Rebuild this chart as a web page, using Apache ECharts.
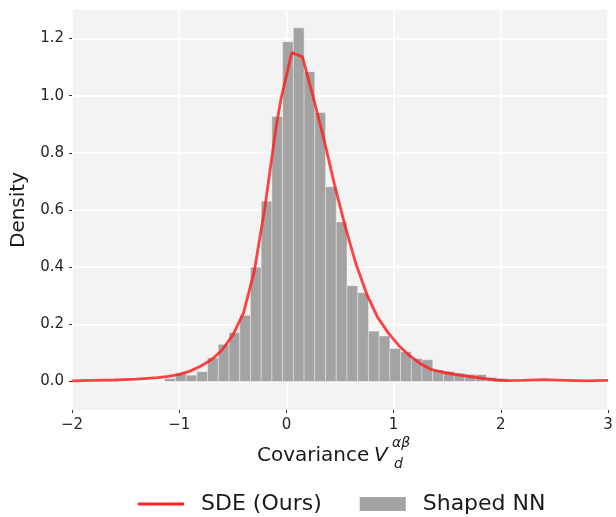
<!DOCTYPE html>
<html>
<head>
<meta charset="utf-8">
<title>Covariance density</title>
<script src="https://cdn.jsdelivr.net/npm/echarts@6/dist/echarts.min.js"></script>
<style>
  html, body { margin: 0; padding: 0; background: #fff; }
  #main { width: 616px; height: 517px; }
</style>
</head>
<body>
<div id="main"></div>
<script type="text/javascript">
// histogram of the shaped network (bin edges and densities)
var binEdges = [-1.135, -1.035, -0.935, -0.835, -0.735, -0.635, -0.535, -0.435, -0.335, -0.235,
    -0.135, -0.035, 0.065, 0.165, 0.265, 0.365, 0.465, 0.565, 0.665, 0.765,
    0.865, 0.965, 1.065, 1.165, 1.265, 1.365, 1.465, 1.565, 1.665, 1.765,
    1.865, 1.965, 2.065];
var nnDensity = [0.010, 0.029, 0.022, 0.034, 0.083, 0.130, 0.171, 0.231, 0.400, 0.631,
    0.927, 1.189, 1.238, 1.084, 0.941, 0.681, 0.558, 0.335, 0.310, 0.176,
    0.159, 0.115, 0.104, 0.080, 0.076, 0.040, 0.035, 0.029, 0.025, 0.024,
    0.014, 0.010];

// SDE density curve
var sdeX = [-2.0, -1.8, -1.6, -1.4, -1.2, -1.1, -1.0, -0.9, -0.8, -0.7,
    -0.6, -0.5, -0.4, -0.3, -0.2, -0.1, -0.05, 0.05, 0.15, 0.25,
    0.35, 0.45, 0.55, 0.65, 0.75, 0.85, 0.95, 1.05, 1.15, 1.25,
    1.35, 1.45, 1.55, 1.65, 1.75, 1.85, 1.95, 2.05, 2.2, 2.4,
    2.6, 2.8, 3.0];
var sdeY = [0.002, 0.004, 0.005, 0.008, 0.013, 0.018, 0.025, 0.036, 0.053, 0.076,
    0.110, 0.162, 0.240, 0.385, 0.610, 0.880, 0.990, 1.151, 1.136, 0.995,
    0.848, 0.687, 0.540, 0.410, 0.305, 0.225, 0.170, 0.125, 0.090, 0.062,
    0.042, 0.033, 0.026, 0.020, 0.015, 0.010, 0.005, 0.003, 0.004, 0.006,
    0.004, 0.002, 0.004];

var yTicks = [0, 0.2, 0.4, 0.6, 0.8, 1.0, 1.2];

var barData = [];
for (var i = 0; i < nnDensity.length; i++) {
    barData.push([binEdges[i], binEdges[i + 1], nnDensity[i]]);
}
var lineData = [];
for (var j = 0; j < sdeX.length; j++) {
    lineData.push([sdeX[j], sdeY[j]]);
}

var font = "DejaVu Sans";
var myChart = echarts.init(document.getElementById('main'));
myChart.setOption({
    animation: false,
    textStyle: { fontFamily: font },
    grid: {
        left: 72, right: 8, top: 10, bottom: 107,
        show: true, backgroundColor: '#f3f3f3', borderWidth: 0
    },
    legend: {
        left: 133, top: 488,
        itemWidth: 46, itemHeight: 14, itemGap: 38,
        textStyle: { fontSize: 22, color: '#1a1a1a', fontFamily: font, padding: [0, 0, 0, 12] },
        data: [
            { name: 'SDE (Ours)', icon: 'path://M0 0H46V3H0Z' },
            { name: 'Shaped NN', icon: 'rect' }
        ]
    },
    xAxis: {
        type: 'value', min: -2, max: 3, interval: 1,
        axisLine: { show: false, onZero: false },
        axisTick: { show: true, length: 3, lineStyle: { color: '#333', width: 1 } },
        axisLabel: {
            fontSize: 15, color: '#262626', margin: 8,
            formatter: function (v) { return String(v).replace('-', '\u2212'); }
        },
        splitLine: { show: true, lineStyle: { color: '#fff', width: 1.5 } }
    },
    yAxis: {
        type: 'value', min: -0.1, max: 1.3,
        name: 'Density', nameLocation: 'middle', nameGap: 41, nameRotate: 90,
        nameTextStyle: { fontSize: 20, color: '#1a1a1a' },
        axisLine: { show: false, onZero: false },
        axisTick: { show: true, length: 3, customValues: yTicks, lineStyle: { color: '#333', width: 1 } },
        axisLabel: {
            fontSize: 15, color: '#262626', margin: 8, customValues: yTicks,
            formatter: function (v) { return v.toFixed(1); }
        },
        splitLine: { show: true, lineStyle: { color: '#fff', width: 1.5 } }
    },
    graphic: [
        { type: 'text', left: 257, top: 446, style: { text: 'Covariance', font: '20px "DejaVu Sans"', fill: '#1a1a1a' } },
        { type: 'text', left: 374, top: 446, style: { text: 'V', font: 'italic 20px "DejaVu Sans"', fill: '#1a1a1a' } },
        { type: 'text', left: 392, top: 436, style: { text: '\u03b1\u03b2', font: 'italic 14px "DejaVu Sans"', fill: '#1a1a1a' } },
        { type: 'text', left: 394, top: 457, style: { text: 'd', font: 'italic 14px "DejaVu Sans"', fill: '#1a1a1a' } }
    ],
    series: [
        {
            name: 'Shaped NN',
            type: 'custom',
            data: barData,
            encode: { x: [0, 1], y: 2 },
            itemStyle: { color: '#a3a3a3' },
            z: 2,
            renderItem: function (params, api) {
                var p0 = api.coord([api.value(0), api.value(2)]);
                var p1 = api.coord([api.value(1), 0]);
                return {
                    type: 'rect',
                    shape: { x: p0[0], y: p0[1], width: p1[0] - p0[0], height: p1[1] - p0[1] },
                    style: { fill: '#a3a3a3', stroke: 'rgba(255,255,255,0.35)', lineWidth: 1 }
                };
            }
        },
        {
            name: 'SDE (Ours)',
            type: 'line',
            data: lineData,
            symbol: 'none',
            z: 3,
            itemStyle: { color: '#ff2222' },
            lineStyle: { color: '#ff2222', width: 2.8, opacity: 0.85 }
        }
    ]
});
</script>
</body>
</html>
